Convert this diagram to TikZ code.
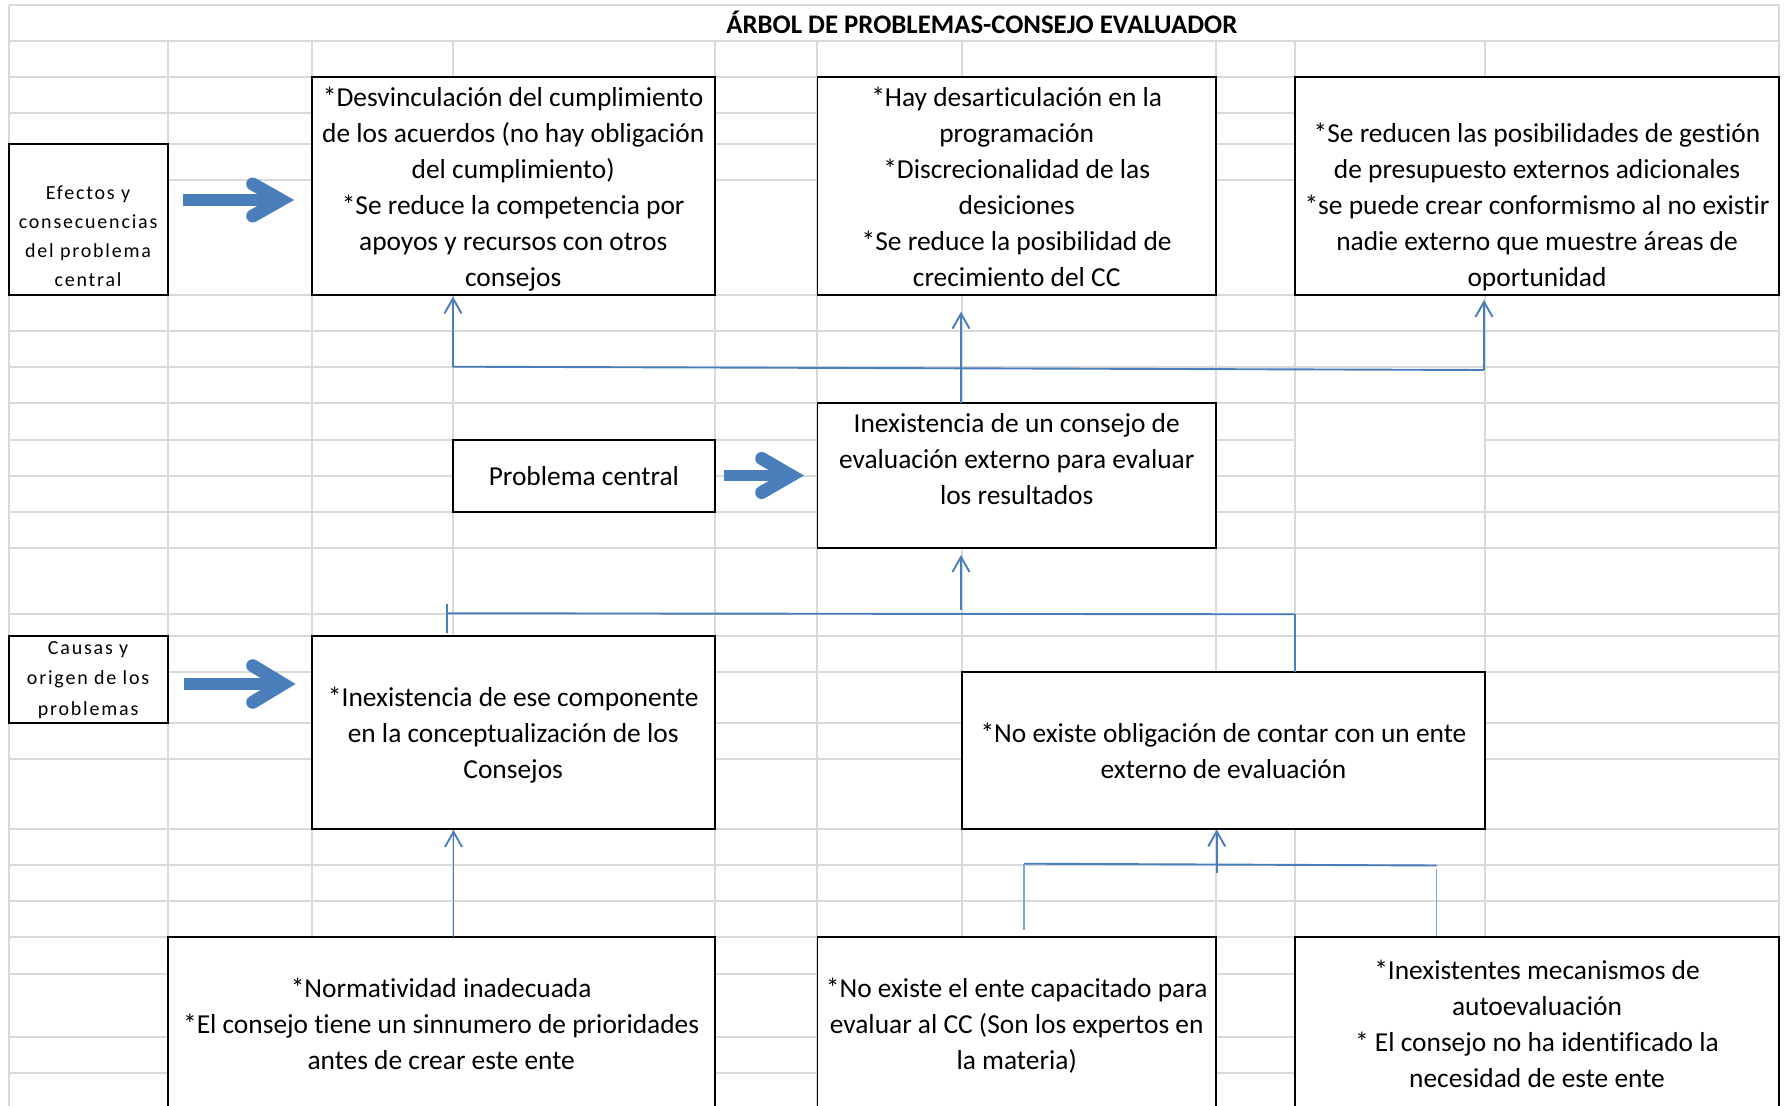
\documentclass[tikz,border=0pt]{standalone}
\usepackage{fontspec}
\setmainfont{Carlito}[Ligatures=NoCommon]
\newfontfamily\tagfamily{Carlito}[LetterSpace=9,Ligatures=NoCommon]
\usetikzlibrary{arrows.meta,calc}

\definecolor{gridline}{RGB}{217,217,217}
\definecolor{linkblue}{RGB}{74,126,187}
\definecolor{arrowblue}{RGB}{74,126,187}

\newcommand\bodysize{\fontsize{13.7pt}{18pt}\selectfont}
\newcommand\tagsize{\tagfamily\fontsize{10pt}{14.5pt}\selectfont}
\newcommand\tagsizeB{\tagfamily\fontsize{10pt}{15.25pt}\selectfont}

% bordered cell: name, x1, y1, x2, y2 (sheet pixels)
\newcommand\cellbox[5]{%
  \node[cell,minimum width={(#4-#2)*0.5pt},minimum height={(#5-#3)*0.5pt}]
    (#1) at ({(#2+#4)/2},{(#3+#5)/2}) {};}

\begin{document}
\begin{tikzpicture}[x=0.5pt,y=-0.5pt,
  grid/.style={draw=gridline,line width=1pt},
  cell/.style={draw=black,line width=0.9pt,fill=white,inner sep=0pt,outer sep=0pt},
  body/.style={font=\bodysize,align=center,inner sep=0pt,yshift=-1.4pt},
  tag/.style={font=\tagsize,align=center,inner sep=0pt,yshift=-1pt},
  link/.style={draw=linkblue,line width=0.95pt},
  faint/.style={draw=linkblue!70,line width=0.7pt},
  tip/.style={link,-{Straight Barb[length=7.5pt,width=8.5pt]}},
  shaft/.style={draw=arrowblue,line width=5.7pt},
  chevron/.style={draw=arrowblue,line width=6.5pt,line cap=round,line join=miter},
]
\useasboundingbox (0,0) rectangle (1784,1106);
\clip (0,0) rectangle (1784,1106);
\fill[white] (0,0) rectangle (1784,1106);

% spreadsheet grid
\foreach \gx in {8.6,167.6,311.7,453,714.7,817.4,962,1216,1295,1485,1779}
  \draw[grid] (\gx,41) -- (\gx,1106);
\draw[grid] (8.6,5) -- (8.6,41);
\draw[grid] (1779,5) -- (1779,41);
\foreach \gy in {5,41,77,113,144,180,295,331,367,403,476,512,548,614,636,672,723,759,829,865,901,937,974,1037,1073}
  \draw[grid] (8.6,\gy) -- (1779,\gy);
\draw[grid] (8.6,440) -- (1295,440);
\draw[grid] (1485,440) -- (1779,440);

% title
\node[font=\bfseries\fontsize{13.4pt}{16pt}\selectfont,anchor=base,inner sep=0pt]
  (title) at (981.8,33.3) {ÁRBOL DE PROBLEMAS-CONSEJO EVALUADOR};

% cells
\cellbox{efectos}{8.6}{144}{167.6}{295}
\cellbox{desv}{311.7}{77}{714.7}{295}
\cellbox{desart}{817.4}{77}{1216}{295}
\cellbox{reducen}{1295}{77}{1779}{295}
\cellbox{problema}{453}{440}{714.7}{512}
\cellbox{central}{817.4}{403}{1216}{548}
\cellbox{causas}{8.6}{636}{167.6}{723}
\cellbox{componente}{311.7}{636}{714.7}{829}
\cellbox{obligacion}{962}{672}{1485}{829}
\cellbox{normatividad}{167.6}{937}{714.7}{1109}
\cellbox{capacitado}{817.4}{937}{1216}{1109}
\cellbox{mecanismos}{1295}{937}{1779}{1109}

% cell texts
\node[tag,anchor=south] (efectos-t) at ($(efectos.south)+(0,-1.5)$)
  {\strut Efectos y\\ \strut consecuencias\\ \strut del problema\\ \strut central};
\node[tag,font=\tagsizeB,anchor=south] (causas-t) at (causas.south)
  {\strut Causas y\\ \strut origen de los\\ \strut problemas};

\node[body,anchor=south] (desv-t) at (desv.south)
  {\strut*Desvinculación del cumplimiento\\ \strut de los acuerdos (no hay obligación\\
   \strut del cumplimiento)\\ \strut*Se reduce la competencia por\\
   \strut apoyos y recursos con otros\\ \strut consejos};
\node[body,anchor=south] (desart-t) at (desart.south)
  {\strut*Hay desarticulación en la\\ \strut programación\\
   \strut*Discrecionalidad de las\\ \strut desiciones\\
   \strut*Se reduce la posibilidad de\\ \strut crecimiento del CC};
\node[body,anchor=south] (reducen-t) at (reducen.south)
  {\strut*Se reducen las posibilidades de gestión\\ \strut de presupuesto externos adicionales\\
   \strut*se puede crear conformismo al no existir\\ \strut nadie externo que muestre áreas de\\
   \strut oportunidad};

\node[body] (problema-t) at (problema.center) {\strut Problema central};
\node[body,anchor=north] (central-t) at ($(central.north)+(0,1.4)$)
  {\strut Inexistencia de un consejo de\\ \strut evaluación externo para evaluar\\
   \strut los resultados};

\node[body] (componente-t) at (componente.center)
  {\strut*Inexistencia de ese componente\\ \strut en la conceptualización de los\\ \strut Consejos};
\node[body] (obligacion-t) at (obligacion.center)
  {\strut*No existe obligación de contar con un ente\\ \strut externo de evaluación};

\node[body] (normatividad-t) at (normatividad.center)
  {\strut*Normatividad inadecuada\\ \strut*El consejo tiene un sinnumero de prioridades\\
   \strut antes de crear este ente};
\node[body] (capacitado-t) at (capacitado.center)
  {\strut*No existe el ente capacitado para\\ \strut evaluar al CC (Son los expertos en\\
   \strut la materia)};
\node[body] (mecanismos-t) at (mecanismos.center)
  {\strut*Inexistentes mecanismos de\\ \strut autoevaluación\\
   \strut* El consejo no ha identificado la\\ \strut necesidad de este ente};

% wide block arrows pointing from the row labels
\coordinate (e-from) at (182.7,200);  \coordinate (e-head) at (281,200);
\coordinate (p-from) at (724,475.5);  \coordinate (p-head) at (791,475.5);
\coordinate (c-from) at (184.3,684);  \coordinate (c-head) at (283,684);
\draw[shaft] (e-from) -- (e-head);
\draw[chevron] ($(e-head)+(-28.3,-16)$) -- (e-head) -- ($(e-head)+(-28.3,16)$);
\draw[shaft] (p-from) -- (p-head);
\draw[chevron] ($(p-head)+(-29.3,-17)$) -- (p-head) -- ($(p-head)+(-29.3,17)$);
\draw[shaft] (c-from) -- (c-head);
\draw[chevron] ($(c-head)+(-30.3,-18.3)$) -- (c-head) -- ($(c-head)+(-30.3,18.3)$);

% effects: central problem feeds the three effect cells
\coordinate (fx-l) at (453,366.7);
\coordinate (fx-r) at (1484,370);
\coordinate (fx-m) at (961,403);
\draw[link] (fx-l) -- (fx-r);
\draw[tip] (fx-l) -- ($(fx-l |- desv.south)+(0,1.5)$);
\draw[tip] (fx-m |- central.north) -- ($(fx-m |- desart.south)+(0,16.7)$);
\draw[tip] (fx-r) -- ($(fx-r |- reducen.south)+(0,5)$);

% causes: first-level causes feed the central problem
\coordinate (cz-l) at (446.6,613.3);
\coordinate (cz-r) at (1295,614.3);
\coordinate (cz-m) at (961,610);
\draw[link] (cz-l) -- (cz-r);
\draw[link] ($(cz-l)+(0,-9.3)$) -- ($(cz-l |- componente.north)+(0,-2.7)$);
\draw[link] (cz-r) -- (cz-r |- obligacion.north);
\draw[tip] (cz-m) -- ($(cz-m |- central.south)+(0,7)$);

% root causes
\coordinate (rc-n) at (453.5,937);
\draw[tip] (rc-n |- normatividad.north) -- ($(rc-n |- componente.south)+(0,1)$);
\coordinate (rc-l) at (1024,863.7);
\coordinate (rc-r) at (1436.7,865.5);
\coordinate (rc-m) at (1216.7,872.7);
\draw[link] (rc-l) -- (rc-r);
\draw[faint] (rc-l) -- ($(rc-l |- capacitado.north)+(0,-7)$);
\draw[faint] ($(rc-r)+(0,3.5)$) -- ($(rc-r |- mecanismos.north)+(0,-1)$);
\draw[tip] (rc-m) -- ($(rc-m |- obligacion.south)+(0,0.5)$);
\end{tikzpicture}
\end{document}
